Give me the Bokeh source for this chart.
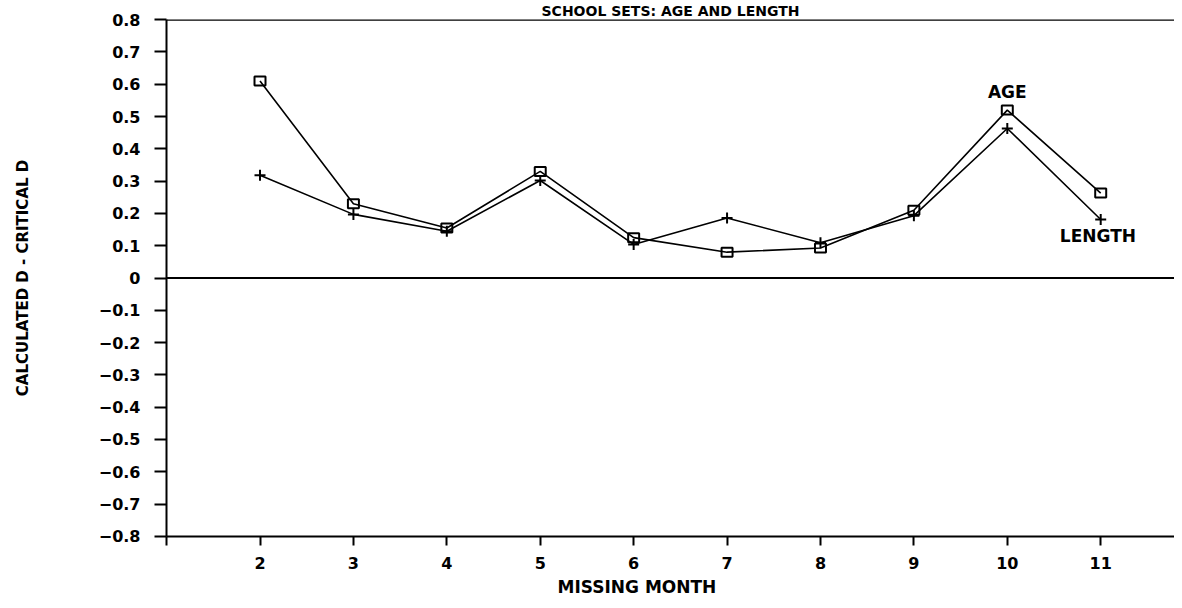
from bokeh.plotting import figure
from bokeh.models import Range1d, FixedTicker, Span, Label, Title
from bokeh.embed import file_html
from bokeh.resources import INLINE

# ---- data ----
months = [2, 3, 4, 5, 6, 7, 8, 9, 10, 11]
age = [0.61, 0.23, 0.155, 0.33, 0.125, 0.08, 0.093, 0.21, 0.52, 0.263]
length = [0.318, 0.197, 0.145, 0.302, 0.104, 0.186, 0.109, 0.193, 0.463, 0.181]

y_ticks = [-0.8, -0.7, -0.6, -0.5, -0.4, -0.3, -0.2, -0.1, 0, 0.1, 0.2, 0.3, 0.4, 0.5, 0.6, 0.7, 0.8]
y_labels = ["\u22120.8", "\u22120.7", "\u22120.6", "\u22120.5", "\u22120.4", "\u22120.3", "\u22120.2", "\u22120.1",
            "0", "0.1", "0.2", "0.3", "0.4", "0.5", "0.6", "0.7", "0.8"]
x_ticks = [1, 2, 3, 4, 5, 6, 7, 8, 9, 10, 11]
x_labels = ["", "2", "3", "4", "5", "6", "7", "8", "9", "10", "11"]

title_text = "SCHOOL SETS: AGE AND LENGTH"
x_title = "MISSING MONTH"
y_title = "CALCULATED D - CRITICAL D"
series_names = ["AGE", "LENGTH"]
# label anchor positions (data units)
name_x = [10.0, 10.97]
name_y = [0.575, 0.129]

FONT = "DejaVu Sans"

p = figure(width=1174, height=600, output_backend="svg", toolbar_location=None,
           x_range=Range1d(0.999, 11.79), y_range=Range1d(-0.8005, 0.8005),
           min_border_left=166, min_border_right=0, min_border_top=0, min_border_bottom=63,
           title=None)
p.xgrid.visible = False
p.ygrid.visible = False
p.outline_line_color = None
p.background_fill_color = "white"

for ax in (p.xaxis[0], p.yaxis[0]):
    ax.axis_line_width = 2
    ax.axis_line_color = "black"
    ax.major_tick_line_width = 2
    ax.major_tick_line_color = "black"
    ax.major_tick_in = 0
    ax.minor_tick_line_color = None
    ax.major_label_text_font = FONT
    ax.major_label_text_font_style = "bold"
    ax.major_label_text_font_size = "16px"
    ax.major_label_text_color = "black"

p.yaxis.ticker = FixedTicker(ticks=y_ticks)
p.yaxis.major_label_overrides = {t: l for t, l in zip(y_ticks, y_labels)}
p.yaxis.major_tick_out = 12
p.yaxis.major_label_standoff = 14
p.yaxis.axis_label = y_title
p.yaxis.axis_label_text_font = FONT
p.yaxis.axis_label_text_font_style = "bold"
p.yaxis.axis_label_text_font_size = "15px"
p.yaxis.axis_label_text_color = "black"
p.yaxis.axis_label_standoff = 64

p.xaxis.ticker = FixedTicker(ticks=x_ticks)
p.xaxis.major_label_overrides = {t: l for t, l in zip(x_ticks, x_labels)}
p.xaxis.major_tick_out = 9
p.xaxis.major_label_standoff = 11

p.add_layout(Span(location=0.8, dimension="width", line_color="black", line_width=2))
p.add_layout(Span(location=0, dimension="width", line_color="black", line_width=2))

# AGE series
p.line(months, age, line_color="black", line_width=1.6)
p.rect(months, age, width=11, height=9, width_units="screen", height_units="screen",
       fill_alpha=0, line_color="black", line_width=2)
# LENGTH series
p.line(months, length, line_color="black", line_width=1.6)
p.scatter(months, length, marker="cross", size=11, line_color="black", line_width=2)

for name, nx, ny in zip(series_names, name_x, name_y):
    p.add_layout(Label(x=nx, y=ny, text=name, text_align="center", text_baseline="middle",
                       text_font=FONT, text_font_style="bold", text_font_size="17px",
                       text_color="black"))

# chart title above the top line
tt = Title(text=title_text, align="center", offset=-35, standoff=1,
           text_font=FONT, text_font_style="bold", text_font_size="14px", text_color="black")
p.add_layout(tt, "above")

# x axis title
xt = Title(text=x_title, align="left", offset=391, standoff=7,
           text_font=FONT, text_font_style="bold", text_font_size="17px", text_color="black")
p.add_layout(xt, "below")

open("out.html", "w").write(file_html(p, INLINE))
